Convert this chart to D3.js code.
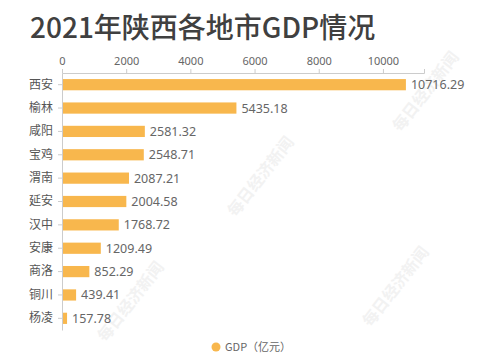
<!DOCTYPE html>
<html>
<head>
<meta charset="utf-8">
<script src="https://cdn.jsdelivr.net/npm/d3@7"></script>
<style>
  body { margin: 0; background: #fff; }
  text { font-family: "Noto Sans CJK SC", "Noto Sans", sans-serif; }
</style>
</head>
<body>
<div id="chart"></div>
<script>
// data
const cities = ['西安', '榆林', '咸阳', '宝鸡', '渭南', '延安', '汉中', '安康', '商洛', '铜川', '杨凌']
const gdp = [10716.29, 5435.18, 2581.32, 2548.71, 2087.21, 2004.58, 1768.72, 1209.49, 852.29, 439.41, 157.78]
const xTicks = [0, 2000, 4000, 6000, 8000, 10000]
const seriesName = 'GDP（亿元）'

const width = 488
const height = 354
const barColor = '#f8b74d'

const svg = d3
  .select('#chart')
  .append('svg')
  .attr('width', width)
  .attr('height', height)

// watermark
const marks = [[135, 305], [265, 180], [430, 95], [400, 290]]
svg
  .append('g')
  .selectAll('text')
  .data(marks)
  .enter()
  .append('text')
  .attr('transform', d => `translate(${d[0]},${d[1]}) rotate(-52)`)
  .attr('text-anchor', 'middle')
  .style('font-size', '16px')
  .style('font-weight', 'bold')
  .attr('fill', '#f2f2f2')
  .text('每日经济新闻')

// title
svg
  .append('text')
  .attr('x', 30)
  .attr('y', 38)
  .style('font-size', '28px')
  .style('font-weight', '500')
  .attr('fill', '#404040')
  .text('2021年陕西各地市GDP情况')

const x = d3
  .scaleLinear()
  .domain([0, 11280])
  .range([62, 424])

const y = d3
  .scaleBand()
  .domain(cities)
  .range([73, 330])
  .paddingInner(0.52)
  .paddingOuter(0.26)

// top axis
const xAxis = svg
  .append('g')
  .attr('transform', 'translate(0,73)')
  .call(d3.axisTop(x).tickValues(xTicks).tickSize(4).tickPadding(4).tickFormat(d3.format('d')))
xAxis.select('.domain').attr('stroke', '#ccc')
xAxis.selectAll('.tick line').attr('stroke', '#ccc')
xAxis
  .selectAll('.tick text')
  .attr('fill', '#666')
  .style('font-size', '11px')
  .style('font-family', '"Noto Sans", sans-serif')

// left axis
const yAxis = svg
  .append('g')
  .attr('transform', 'translate(62,0)')
  .call(d3.axisLeft(y).tickSize(4).tickPadding(5).tickSizeOuter(0))
yAxis.select('.domain').attr('stroke', '#ccc')
yAxis.selectAll('.tick line').attr('stroke', '#ccc')
yAxis
  .selectAll('.tick text')
  .attr('fill', '#555')
  .style('font-size', '12px')

// bars
const rows = cities.map((c, i) => ({ city: c, value: gdp[i] }))
svg
  .append('g')
  .selectAll('rect')
  .data(rows)
  .enter()
  .append('rect')
  .attr('x', x(0) + 1)
  .attr('y', d => y(d.city))
  .attr('width', d => x(d.value) - x(0) - 1)
  .attr('height', y.bandwidth())
  .attr('fill', barColor)

// value labels
svg
  .append('g')
  .selectAll('text')
  .data(rows)
  .enter()
  .append('text')
  .attr('x', d => x(d.value) + 5)
  .attr('y', d => y(d.city) + y.bandwidth() / 2)
  .attr('dy', '0.36em')
  .style('font-size', '12.5px')
  .style('font-family', '"Noto Sans", sans-serif')
  .attr('fill', '#666')
  .text(d => d3.format('.2f')(d.value))

// legend
const legend = svg.append('g').attr('transform', 'translate(216,347)')
legend.append('circle').attr('r', 4.5).attr('fill', barColor)
legend
  .append('text')
  .attr('x', 9)
  .attr('dy', '0.36em')
  .style('font-size', '11px')
  .attr('fill', '#666')
  .text(seriesName)
</script>
</body>
</html>
